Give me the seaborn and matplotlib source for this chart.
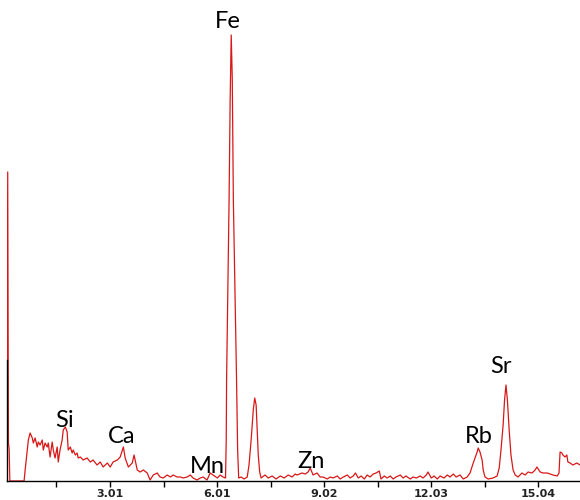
import numpy as np
import pandas as pd
import matplotlib
matplotlib.use("Agg")
import matplotlib.pyplot as plt
import seaborn as sns

# ==========================================
# Spectrum data (energy in keV, counts)
# ==========================================

energy = [
    0.11, 0.13, 0.15, 0.17, 0.19, 0.45, 0.59, 0.62, 0.68, 0.71,
    0.76, 0.82, 0.85, 0.90, 0.96, 0.99, 1.04, 1.10, 1.13, 1.18,
    1.24, 1.27, 1.32, 1.38, 1.41, 1.46, 1.52, 1.55, 1.60, 1.66,
    1.69, 1.75, 1.80, 1.83, 1.89, 1.94, 1.97, 2.03, 2.08, 2.11,
    2.17, 2.25, 2.36, 2.45, 2.53, 2.64, 2.73, 2.81, 2.93, 3.01,
    3.09, 3.21, 3.29, 3.38, 3.43, 3.52, 3.63, 3.68, 3.77, 3.85,
    3.94, 4.05, 4.13, 4.22, 4.33, 4.41, 4.50, 4.61, 4.70, 4.78,
    4.89, 4.98, 5.06, 5.17, 5.26, 5.34, 5.45, 5.54, 5.62, 5.73,
    5.82, 5.90, 6.02, 6.10, 6.18, 6.25, 6.27, 6.28, 6.31, 6.35,
    6.38, 6.41, 6.44, 6.47, 6.52, 6.56, 6.59, 6.62, 6.69, 6.77,
    6.86, 6.91, 6.97, 7.03, 7.07, 7.11, 7.14, 7.17, 7.21, 7.25,
    7.36, 7.45, 7.56, 7.67, 7.79, 7.90, 8.01, 8.12, 8.21, 8.26,
    8.40, 8.49, 8.57, 8.63, 8.71, 8.82, 8.91, 8.99, 9.11, 9.19,
    9.27, 9.39, 9.47, 9.56, 9.67, 9.75, 9.84, 9.90, 9.98, 10.06,
    10.15, 10.23, 10.31, 10.40, 10.48, 10.57, 10.62, 10.71, 10.79, 10.88,
    10.96, 11.04, 11.16, 11.24, 11.32, 11.44, 11.52, 11.61, 11.72, 11.80,
    11.89, 11.94, 12.03, 12.11, 12.20, 12.28, 12.39, 12.48, 12.56, 12.65,
    12.73, 12.84, 12.93, 13.04, 13.12, 13.21, 13.32, 13.35, 13.40, 13.46,
    13.49, 13.54, 13.63, 13.77, 13.88, 13.94, 13.99, 14.05, 14.09, 14.13,
    14.17, 14.22, 14.27, 14.33, 14.39, 14.47, 14.58, 14.67, 14.75, 14.86,
    14.95, 15.00, 15.09, 15.17, 15.29, 15.37, 15.45, 15.57, 15.62, 15.65,
    15.70, 15.73, 15.79, 15.84, 15.87, 15.93, 16.01, 16.12, 16.21,
]

counts = [
    0, 309, 38, 32, 0, 0, 0, 11, 31, 41,
    48, 43, 38, 43, 34, 39, 36, 41, 31, 38,
    34, 38, 24, 39, 31, 23, 34, 19, 31, 41,
    51, 54, 49, 31, 34, 28, 31, 26, 28, 23,
    24, 21, 23, 19, 21, 16, 19, 14, 18, 14,
    19, 21, 24, 34, 23, 14, 18, 26, 11, 9,
    11, 8, 1, 6, 8, 4, 3, 6, 4, 6,
    4, 4, 3, 4, 6, 3, 1, 3, 4, 1,
    8, 6, 3, 6, 4, 3, 41, 101, 181, 281,
    381, 446, 401, 281, 181, 101, 31, 3, 4, 2,
    4, 16, 41, 71, 83, 76, 51, 26, 9, 3,
    6, 3, 5, 2, 5, 3, 6, 4, 7, 6,
    8, 7, 9, 13, 6, 8, 4, 4, 2, 4,
    3, 5, 2, 4, 6, 3, 5, 8, 3, 5,
    2, 6, 4, 7, 8, 10, 2, 5, 3, 5,
    2, 4, 6, 3, 5, 2, 4, 3, 5, 3,
    6, 9, 3, 5, 2, 5, 3, 6, 4, 7,
    4, 6, 2, 4, 8, 18, 29, 33, 29, 21,
    11, 4, 2, 3, 5, 13, 31, 56, 81, 96,
    81, 51, 26, 11, 6, 4, 8, 6, 9, 8,
    11, 14, 9, 8, 8, 7, 6, 5, 8, 29,
    28, 26, 24, 26, 19, 18, 16, 18, 16,
]

# element labels (text, x in keV, baseline y)
elements = ["Fe", "Si", "Ca", "Mn", "Zn", "Rb", "Sr"]
label_x = [6.32, 1.72, 3.32, 5.73, 8.66, 13.38, 14.00]
label_y = [453, 54, 38, 8, 13, 38, 108]

major_ticks = [3.01, 6.01, 9.02, 12.03, 15.04]
major_labels = ["3.01", "6.01", "9.02", "12.03", "15.04"]
minor_ticks = [1.50, 4.51, 7.52, 10.53, 13.54]

df = pd.DataFrame({"energy": energy, "counts": counts})

# ==========================================
# Plot
# ==========================================

sns.set_style("white")

fig = plt.figure(figsize=(5.8, 5.0), dpi=100)
ax = fig.add_axes([7 / 580, 19 / 500, 573 / 580, 481 / 500])

sns.lineplot(
    data=df,
    x="energy",
    y="counts",
    ax=ax,
    color="#d81818",
    linewidth=0.9,
    estimator=None,
    sort=False,
)

ax.set_xlim(0.11, 16.21)
ax.set_ylim(0, 481)

for name, x, y in zip(elements, label_x, label_y):
    ax.text(x, y, name, ha="center", va="baseline",
            fontsize=17, family="Lato", color="black")

ax.set_xticks(major_ticks)
ax.set_xticklabels(major_labels, fontsize=8, fontweight="bold", color="#222222")
ax.set_xticks(minor_ticks, minor=True)
ax.tick_params(axis="x", which="both", direction="out", length=4, width=1,
               color="black", bottom=True, pad=2)
ax.set_yticks([])
ax.set_xlabel("")
ax.set_ylabel("")

ax.spines["top"].set_visible(False)
ax.spines["right"].set_visible(False)
ax.spines["bottom"].set_color("black")
ax.spines["bottom"].set_linewidth(1)
ax.spines["left"].set_color("black")
ax.spines["left"].set_linewidth(1)
ax.spines["left"].set_bounds(0, 121)

fig.savefig("out.png", dpi=100)
